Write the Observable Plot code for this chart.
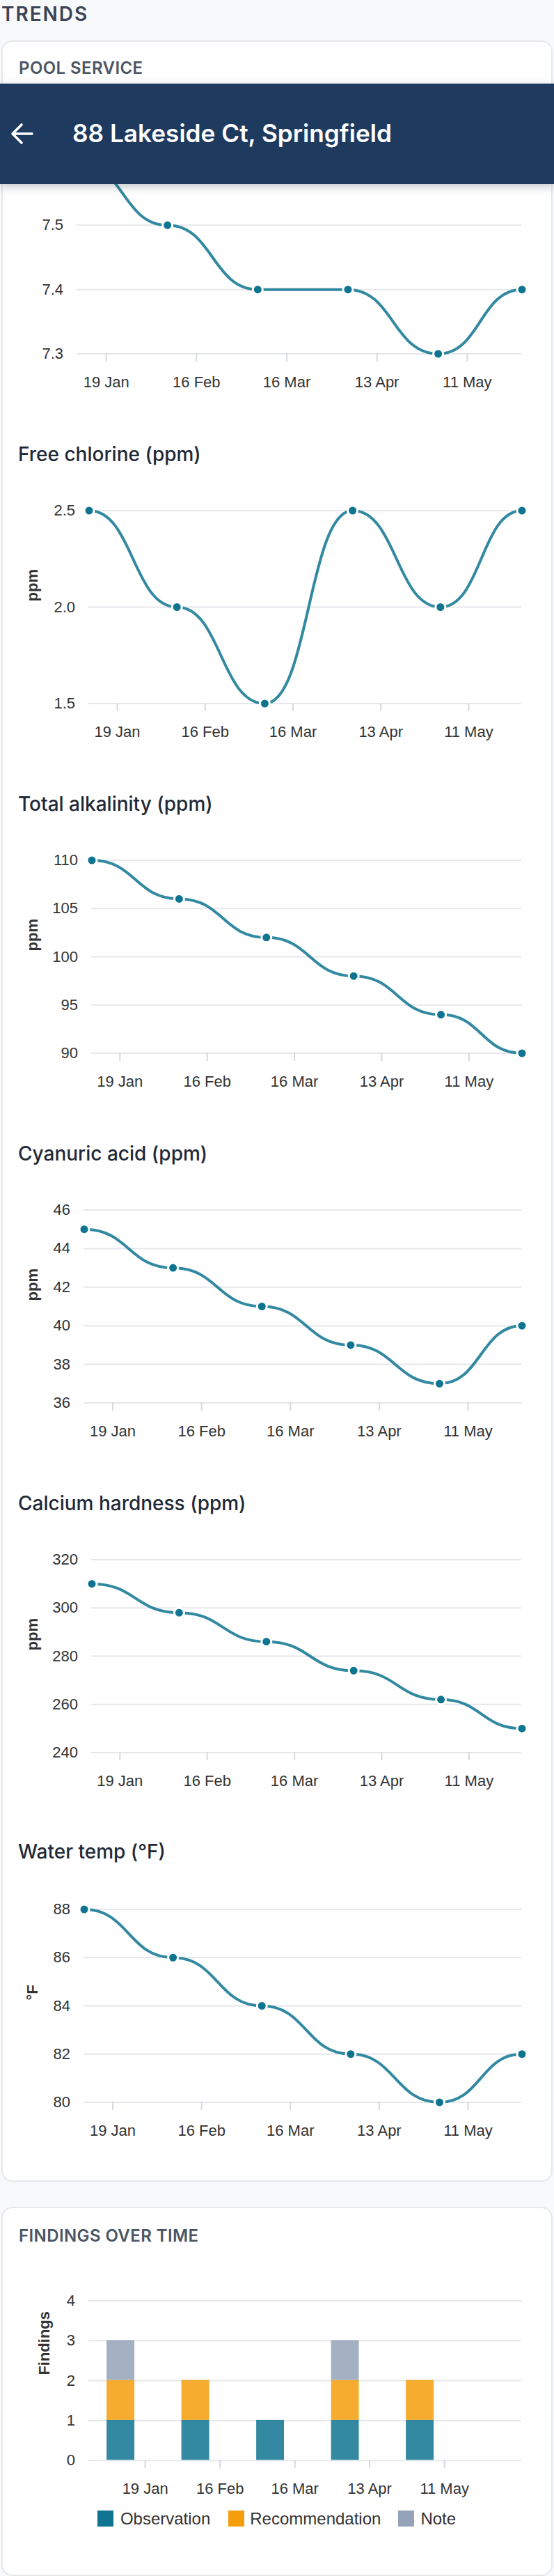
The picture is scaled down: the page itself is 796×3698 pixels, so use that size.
<!DOCTYPE html>
<html>
<head>
<meta charset="utf-8">
<script src="https://cdn.jsdelivr.net/npm/d3@7"></script>
<script src="https://cdn.jsdelivr.net/npm/@observablehq/plot@0.6"></script>
<style>
  html { margin: 0; padding: 0; background: #f8f9fb; overflow: hidden; }
  body { margin: 0; padding: 0; width: 796px; height: 3698px; background: #f8f9fb; }
  #page { position: relative; width: 398px; height: 1849px; transform: scale(2); transform-origin: 0 0;
          font-family: Inter, "Noto Sans", sans-serif; }
  .section { position: absolute; left: 1px; top: 0.9px; font-size: 14px; line-height: 18px; font-weight: 600;
             letter-spacing: 0.07em; color: #3b4354; }
  .card { position: absolute; left: 1px; width: 396px; box-sizing: border-box; background: #fff;
          border: 1px solid #e5e7eb; border-radius: 8px; }
  .cardlabel { position: absolute; left: 13.5px; font-size: 12px; line-height: 16px; font-weight: 600;
               letter-spacing: 0.2px; color: #4b5563; }
  .title { position: absolute; left: 13px; font-size: 14px; line-height: 20px; font-weight: 500; color: #1f2937; }
  .chart { position: absolute; left: 0; }
  .chart svg { overflow: visible; }
  #bar { position: absolute; left: 0; top: 60px; width: 398px; height: 72px; background: #1f3a5f;
         box-shadow: 0 2px 6px rgba(15, 23, 42, 0.25); z-index: 10; }
  #bar .addr { position: absolute; left: 52px; top: 0; line-height: 72px; font-size: 17.6px; font-weight: 600; color: #fff; }
  #bar svg { position: absolute; left: 0; top: 0; }
  #legend { position: absolute; left: 0; width: 398px; top: 1796px; }
  .leg-swatches { justify-content: center; font-family: "Liberation Sans", Arial, sans-serif !important;
                  font-size: 12px !important; color: #333; margin: 0 !important; min-height: 24px !important; }
  .leg-swatch { margin-right: 12.5px !important; }
  .leg-swatch:last-child { margin-right: 0 !important; }
  .leg-swatch > svg { margin-right: 4.5px !important; }
</style>
</head>
<body>
<div id="page">
  <div class="section">TRENDS</div>
  <div class="card" id="card1" style="top:28.5px;height:1537.5px;"></div>
  <div class="cardlabel" style="top:40.6px;">POOL SERVICE</div>
  <div class="card" id="card2" style="top:1584px;height:264.5px;"></div>
  <div class="cardlabel" style="top:1596.6px;">FINDINGS OVER TIME</div>
  <div id="bar">
    <svg width="40" height="72"><path d="M23 36 H9 M15.5 29.5 L9 36 L15.5 42.5" fill="none" stroke="#fff" stroke-width="1.8" stroke-linecap="round" stroke-linejoin="round"/></svg>
    <div class="addr">88 Lakeside Ct, Springfield</div>
  </div>
  <div id="legend"></div>
</div>
<script>
// ---- data ----
const visitDates = ["2025-01-10", "2025-02-07", "2025-03-07", "2025-04-04", "2025-05-02", "2025-05-28"];
const xTickDates = ["2025-01-19", "2025-02-16", "2025-03-16", "2025-04-13", "2025-05-11"];
const phValues = [7.6, 7.5, 7.4, 7.4, 7.3, 7.4];
const chlorineValues = [2.5, 2.0, 1.5, 2.5, 2.0, 2.5];
const alkalinityValues = [110, 106, 102, 98, 94, 90];
const cyanuricValues = [45, 43, 41, 39, 37, 40];
const calciumValues = [310, 298, 286, 274, 262, 250];
const waterTempValues = [88, 86, 84, 82, 80, 82];
const phTicks = [7.3, 7.4, 7.5, 7.6];
const chlorineTicks = [1.5, 2.0, 2.5];
const alkalinityTicks = [90, 95, 100, 105, 110];
const cyanuricTicks = [36, 38, 40, 42, 44, 46];
const calciumTicks = [240, 260, 280, 300, 320];
const waterTempTicks = [80, 82, 84, 86, 88];
const chartTitles = ["pH", "Free chlorine (ppm)", "Total alkalinity (ppm)", "Cyanuric acid (ppm)", "Calcium hardness (ppm)", "Water temp (°F)"];
const unitLabels = [null, "ppm", "ppm", "ppm", "ppm", "°F"];
const findingTypes = ["Observation", "Recommendation", "Note"];
const observationCounts = [1, 1, 1, 1, 1, 0];
const recommendationCounts = [1, 1, 0, 1, 1, 0];
const noteCounts = [1, 0, 0, 1, 0, 0];
const findingTicks = [0, 1, 2, 3, 4];
const findingColors = ["#0e7490", "#f59e0b", "#94a3b8"];

// ---- layout ----
const dates = visitDates.map(d => new Date(d));
const xTicks = xTickDates.map(d => new Date(d));
const series = [phValues, chlorineValues, alkalinityValues, cyanuricValues, calciumValues, waterTempValues];
const yTicks = [phTicks, chlorineTicks, alkalinityTicks, cyanuricTicks, calciumTicks, waterTempTicks];
const yFormats = [".1f", ".1f", "d", "d", "d", "d"];
const marginLefts = [55, 63.5, 65.5, 60, 65.5, 60];
const page = document.getElementById("page");
const fmt = d3.utcFormat("%-d %b");
const fontStyle = {fontSize: "11px", fontFamily: "'Liberation Sans', Arial, sans-serif", color: "#333", background: "transparent", overflow: "visible"};
const teal = "#0e7490";

function yLabel(text, ml, anchorX) {
  return text == null ? null : Plot.text([text], {
    text: d => d, frameAnchor: "left", rotate: -90, lineAnchor: "top",
    dx: anchorX - ml, dy: -4, fontWeight: "bold", fill: "#333"
  });
}

series.forEach((values, i) => {
  const plotTop = 115 + 250.9 * i;
  const t = document.createElement("div");
  t.className = "title";
  t.style.top = (plotTop - 50.1) + "px";
  t.textContent = chartTitles[i];
  page.appendChild(t);

  const data = dates.map((d, j) => ({date: d, value: values[j]}));
  const ml = marginLefts[i];
  const ticks = yTicks[i];
  const chart = Plot.plot({
    width: 398, height: 198.5, marginTop: 20, marginBottom: 40, marginLeft: ml, marginRight: 23.5,
    style: fontStyle,
    x: {type: "utc", domain: d3.extent(dates)},
    y: {domain: d3.extent(ticks)},
    marks: [
      Plot.gridY(ticks, {stroke: "#e5e7eb", strokeOpacity: 1}),
      Plot.axisX({ticks: xTicks, tickFormat: fmt, tickSize: 6, tickPadding: 10, stroke: "#d6d9df", fill: "#333", label: null}),
      Plot.axisY({ticks, tickFormat: yFormats[i], tickSize: 0, tickPadding: 10, fill: "#333", label: null}),
      yLabel(unitLabels[i], ml, 18.5),
      Plot.line(data, {x: "date", y: "value", curve: "bump-x", stroke: teal, strokeOpacity: 0.85, strokeWidth: 2}),
      Plot.dot(data, {x: "date", y: "value", r: 3.5, fill: teal, stroke: "#fff", strokeWidth: 1.5})
    ]
  });
  const holder = document.createElement("div");
  holder.className = "chart";
  holder.style.top = (plotTop - 20) + "px";
  holder.appendChild(chart);
  page.appendChild(holder);
});

// ---- findings ----
const counts = [observationCounts, recommendationCounts, noteCounts];
const findings = [];
dates.forEach((d, j) => findingTypes.forEach((type, k) => findings.push({date: d, type, count: counts[k][j]})));
const halfWidth = 5.2 * 864e5;
const fChart = Plot.plot({
  width: 398, height: 164.6, marginTop: 20, marginBottom: 30, marginLeft: 63.5, marginRight: 23.5,
  style: fontStyle,
  x: {type: "utc", domain: [d3.utcDay.offset(dates[0], -12), d3.utcDay.offset(dates[dates.length - 1], 12)]},
  y: {domain: d3.extent(findingTicks)},
  color: {domain: findingTypes, range: findingColors},
  marks: [
    Plot.gridY(findingTicks, {stroke: "#e5e7eb", strokeOpacity: 1}),
    Plot.rectY(findings, {
      x1: d => new Date(+d.date - halfWidth), x2: d => new Date(+d.date + halfWidth),
      y: "count", fill: "type", fillOpacity: 0.85
    }),
    Plot.axisX({ticks: xTicks, tickFormat: fmt, tickSize: 6, tickPadding: 10, stroke: "#d6d9df", fill: "#333", label: null}),
    Plot.axisY({ticks: findingTicks, tickFormat: "d", tickSize: 0, tickPadding: 10, fill: "#333", label: null}),
    yLabel("Findings", 63.5, 27.2)
  ]
});
const fHolder = document.createElement("div");
fHolder.className = "chart";
fHolder.style.top = (1650.8 - 20) + "px";
fHolder.appendChild(fChart);
page.appendChild(fHolder);

const legend = Plot.legend({
  color: {type: "ordinal", domain: findingTypes, range: findingColors},
  legend: "swatches", swatchSize: 11.5, className: "leg"
});
document.getElementById("legend").appendChild(legend);
</script>
</body>
</html>
